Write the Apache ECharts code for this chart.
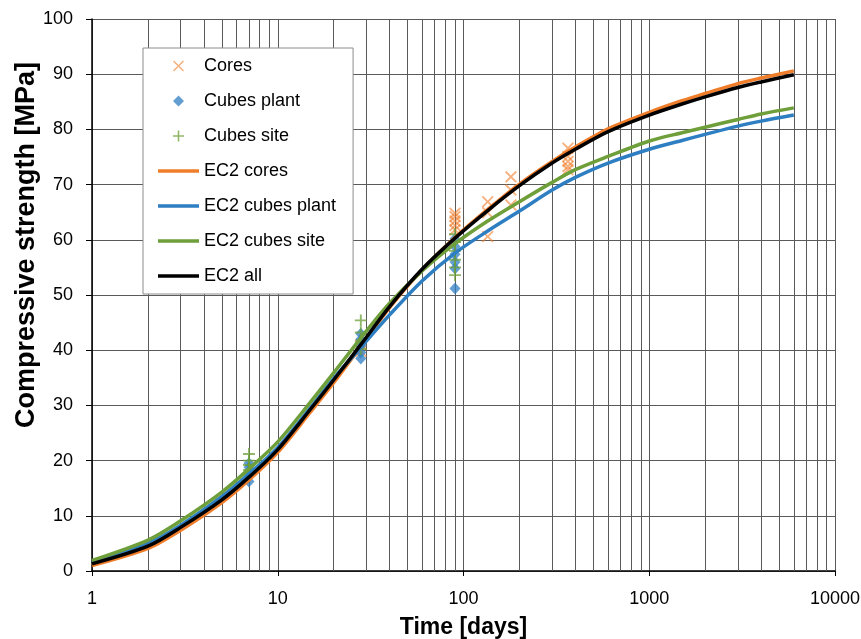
<!DOCTYPE html>
<html>
<head>
<meta charset="utf-8">
<script src="https://cdn.jsdelivr.net/npm/echarts@6/dist/echarts.min.js"></script>
<style>
  html, body { margin: 0; padding: 0; background: #fff; }
  #chart { width: 861px; height: 639px; }
</style>
</head>
<body>
<div id="chart"></div>
<script>
// measured points
const coresDays = [28, 28, 90, 90, 90, 90, 90, 135, 135, 135, 180, 180, 180, 365, 365, 365, 365, 365];
const coresStrength = [39.8, 41.0, 61.8, 62.6, 63.4, 64.2, 64.8, 60.6, 64.9, 66.9, 66.3, 69.0, 71.4, 72.7, 73.3, 74.2, 75.1, 76.6];
const plantDays = [7, 7, 7, 7, 7, 28, 28, 28, 28, 28, 90, 90, 90, 90, 90, 90];
const plantStrength = [16.2, 17.2, 18.0, 18.8, 19.5, 38.5, 39.6, 40.8, 42.0, 43.0, 51.2, 54.8, 56.0, 57.4, 58.8, 60.2];
const siteDays = [7, 7, 7, 7, 28, 28, 28, 28, 90, 90, 90, 90, 90, 90];
const siteStrength = [18.3, 19.2, 20.0, 21.2, 40.2, 41.6, 43.2, 45.4, 53.6, 55.0, 56.4, 58.0, 59.6, 61.0];

// EC2 curves
const curveDays = [1, 2, 3, 5, 7, 10, 15, 20, 28, 40, 60, 90, 135, 200, 300, 400, 600, 1000, 1500, 2000, 3000, 4000, 6000];
const ec2Cores = [1.0, 4.1, 7.4, 12.4, 16.5, 21.5, 28.8, 34.1, 40.7, 47.7, 54.6, 60.4, 65.5, 70.1, 74.2, 76.8, 80.1, 83.1, 85.2, 86.5, 88.3, 89.3, 90.6];
const ec2Plant = [1.6, 5.0, 8.3, 13.5, 17.6, 22.4, 29.6, 34.9, 40.5, 46.4, 52.6, 57.6, 61.6, 65.2, 69.0, 71.3, 73.9, 76.4, 78.0, 79.1, 80.6, 81.5, 82.6];
const ec2Site = [1.9, 5.6, 9.1, 14.3, 18.5, 23.4, 30.6, 35.9, 42.2, 48.5, 54.4, 59.3, 63.4, 66.9, 70.4, 72.7, 75.1, 77.9, 79.4, 80.4, 81.8, 82.8, 83.9];
const ec2All = [1.3, 4.5, 7.9, 12.9, 17.0, 22.0, 29.3, 34.6, 41.0, 47.9, 54.7, 60.3, 65.3, 69.8, 73.9, 76.4, 79.6, 82.6, 84.6, 85.9, 87.6, 88.6, 89.9];

// log minor grid lines 2..9 of every decade
const minorTicks = [2, 3, 4, 5, 6, 7, 8, 9, 20, 30, 40, 50, 60, 70, 80, 90,
  200, 300, 400, 500, 600, 700, 800, 900, 2000, 3000, 4000, 5000, 6000, 7000, 8000, 9000];

const FONT = "'Liberation Sans', Arial, sans-serif";
const ORANGE = "#F07D2A";
const BLUE = "#2E7EC2";
const GREEN = "#6E9F3A";
const GRID = "#5a5a5a";

const zip = (xs, ys) => xs.map((x, i) => [x, ys[i]]);

// marker shapes (10x10 box)
const crossPath = "M0 1.1L1.1 0L5 3.9L8.9 0L10 1.1L6.1 5L10 8.9L8.9 10L5 6.1L1.1 10L0 8.9L3.9 5Z";
const plusPath = "M4.2 0H5.8V4.2H10V5.8H5.8V10H4.2V5.8H0V4.2H4.2Z";

// legend icons: padded to 41x14 with tiny corner dots so the shape isn't stretched
const pad = "M0 0h0.01v0.01h-0.01Z M40.99 13.99h0.01v0.01h-0.01Z ";
const legCross = "path://" + pad + "M15 2.6L16.1 1.5L20.5 5.9L24.9 1.5L26 2.6L21.6 7L26 11.4L24.9 12.5L20.5 8.1L16.1 12.5L15 11.4L19.4 7Z";
const legDiamond = "path://" + pad + "M20.5 1.5L26 7L20.5 12.5L15 7Z";
const legPlus = "path://" + pad + "M19.7 1.5H21.3V6.2H26V7.8H21.3V12.5H19.7V7.8H15V6.2H19.7Z";
const legLine = "path://" + pad + "M0 5.2H41V8.8H0Z";

const chart = echarts.init(document.getElementById("chart"));

const lineSeries = (name, values, color) => ({
  name: name,
  type: "line",
  data: zip(curveDays, values),
  smooth: 0.3,
  symbol: "none",
  color: color,
  lineStyle: { color: color, width: 3.5 },
  z: 3,
  silent: true,
});

const options = {
  animation: false,
  textStyle: { fontFamily: FONT },
  grid: { left: 92, right: 26, top: 19, bottom: 68, outerBoundsMode: "none" },
  legend: {
    orient: "vertical",
    left: 143,
    top: 48,
    padding: [9, 17, 9, 15],
    itemGap: 17,
    itemWidth: 41,
    itemHeight: 14,
    backgroundColor: "#fff",
    borderColor: "#8c8c8c",
    borderWidth: 1,
    selectedMode: false,
    textStyle: { fontFamily: FONT, fontSize: 18, color: "#000" },
    data: [
      { name: "Cores", icon: legCross },
      { name: "Cubes plant", icon: legDiamond },
      { name: "Cubes site", icon: legPlus },
      { name: "EC2 cores", icon: legLine },
      { name: "EC2 cubes plant", icon: legLine },
      { name: "EC2 cubes site", icon: legLine },
      { name: "EC2 all", icon: legLine },
    ],
  },
  xAxis: {
    type: "log",
    logBase: 10,
    min: 1,
    max: 10000,
    name: "Time [days]",
    nameLocation: "middle",
    nameGap: 45,
    nameMoveOverlap: false,
    nameTextStyle: { fontFamily: FONT, fontSize: 23, fontWeight: "bold", color: "#000" },
    axisLine: { lineStyle: { color: "#000", width: 1.5 } },
    axisTick: { show: true, length: 5, lineStyle: { color: "#000" } },
    axisLabel: {
      fontSize: 18, color: "#000", margin: 19, fontFamily: FONT,
      formatter: (v) => String(Math.round(v)),
    },
    splitLine: { show: true, lineStyle: { color: GRID, width: 1 } },
  },
  yAxis: {
    type: "value",
    min: 0,
    max: 100,
    interval: 10,
    name: "Compressive strength [MPa]",
    nameLocation: "middle",
    nameGap: 52,
    nameMoveOverlap: false,
    nameTextStyle: {
      fontFamily: FONT, fontSize: 27, fontWeight: "bold", color: "#000",
      padding: [0, 0, 0, 100],
    },
    axisLine: { show: true, lineStyle: { color: "#000", width: 1.5 } },
    axisTick: { show: true, length: 6, lineStyle: { color: "#000" } },
    axisLabel: { fontSize: 18, color: "#000", margin: 19, fontFamily: FONT },
    splitLine: { show: true, lineStyle: { color: GRID, width: 1 } },
  },
  series: [
    {
      name: "minor grid",
      type: "line",
      data: [],
      silent: true,
      markLine: {
        silent: true,
        z: 1,
        symbol: "none",
        label: { show: false },
        lineStyle: { color: GRID, width: 1, type: "solid" },
        data: minorTicks.map((v) => ({ xAxis: v })),
      },
    },
    {
      name: "Cores",
      type: "scatter",
      data: zip(coresDays, coresStrength),
      symbol: "path://" + crossPath,
      symbolSize: 12,
      color: ORANGE,
      itemStyle: { color: ORANGE, opacity: 0.6 },
      z: 2,
    },
    {
      name: "Cubes plant",
      type: "scatter",
      data: zip(plantDays, plantStrength),
      symbol: "diamond",
      symbolSize: [11, 12],
      color: BLUE,
      itemStyle: { color: BLUE, opacity: 0.75 },
      z: 2,
    },
    {
      name: "Cubes site",
      type: "scatter",
      data: zip(siteDays, siteStrength),
      symbol: "path://" + plusPath,
      symbolSize: 12,
      color: GREEN,
      itemStyle: { color: GREEN, opacity: 0.75 },
      z: 2,
    },
    lineSeries("EC2 cores", ec2Cores, ORANGE),
    lineSeries("EC2 cubes plant", ec2Plant, BLUE),
    lineSeries("EC2 cubes site", ec2Site, GREEN),
    lineSeries("EC2 all", ec2All, "#000"),
  ],
};

chart.setOption(options);
</script>
</body>
</html>
